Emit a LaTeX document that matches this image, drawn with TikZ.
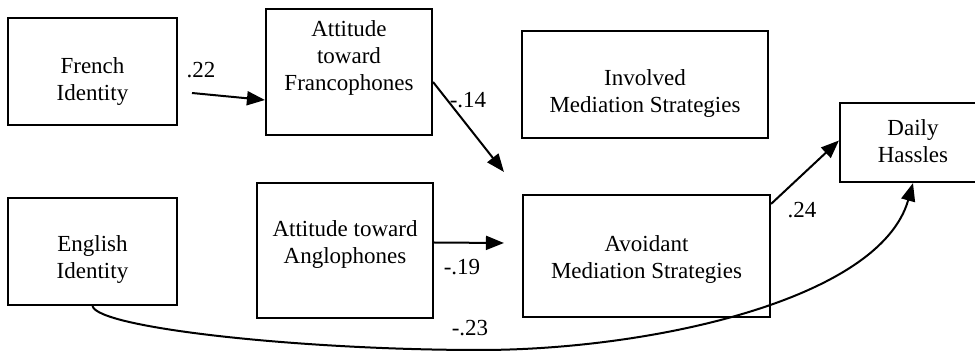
\documentclass[tikz,border=0pt]{standalone}
\usepackage{fontspec}
\setmainfont{Liberation Serif}
\usetikzlibrary{arrows.meta,calc}
\begin{document}
\begin{tikzpicture}[x=0.5pt,y=-0.5pt,
  box/.style={draw,line width=1.05pt,inner sep=0pt},
  txt/.style={align=center,font=\fontsize{11.5}{13.5}\selectfont,inner sep=0pt},
  coef/.style={font=\fontsize{11.5}{13.5}\selectfont,inner sep=0pt},
  link/.style={line width=1pt,-{Triangle[length=9pt,width=7pt]}}]
\clip (0,0) rectangle (975,352);

% variable boxes
\node[box,minimum width=84.5pt,minimum height=53.5pt] (fr) at (92.5,71.5) {};
\node[txt] (frT) at (92.5,82) {French\\Identity};

\node[box,minimum width=83pt,minimum height=63pt] (frat) at (349,72) {};
\node[txt] (fratT) at (349,58) {Attitude\\toward\\Francophones};

\node[box,minimum width=123pt,minimum height=53.5pt] (inv) at (645,84.5) {};
\node[txt] (invT) at (645,93.5) {Involved\\Mediation Strategies};

\node[box,minimum width=73pt,minimum height=39.5pt] (daily) at (913,142.5) {};
\node[txt] (dailyT) at (913,141) {Daily\\Hassles};

\node[box,minimum width=84.5pt,minimum height=53.5pt] (eng) at (92.5,251.5) {};
\node[txt] (engT) at (92.5,260) {English\\Identity};

\node[box,minimum width=88pt,minimum height=67.5pt] (ang) at (345,250.5) {};
\node[txt] (angT) at (345,245) {Attitude toward\\Anglophones};

\node[box,minimum width=123.5pt,minimum height=61pt] (avoid) at (646.5,256) {};
\node[txt] (avoidT) at (646.5,260) {Avoidant\\Mediation Strategies};

% paths
\coordinate (a22) at (192,93);
\draw[link] (a22) -- ($(frat.west)+(0,28)$);
\draw[link] ($(frat.east)+(0,10)$) -- ($(avoid.north west)+(-18,-22)$);
\draw[link] ($(ang.east)+(0,-8)$) -- ($(avoid.west)+(-18,-13)$);
\draw[link] ($(avoid.north east)+(0,10)$) -- ($(daily.west)+(0,-2)$);
\coordinate (low) at (480,350);
\draw[link] (eng.south) .. controls (98,328) and (300,350) .. (low)
  .. controls (650,350) and (880,300) .. (daily.south);

% path coefficients
\node[coef] (c22) at (201,70) {.22};
\node[coef] (c14) at (468,100) {-.14};
\node[coef] (c19) at (462,267) {-.19};
\node[coef] (c24) at (802,210) {.24};
\node[coef] (c23) at (470,328) {-.23};
\end{tikzpicture}
\end{document}
